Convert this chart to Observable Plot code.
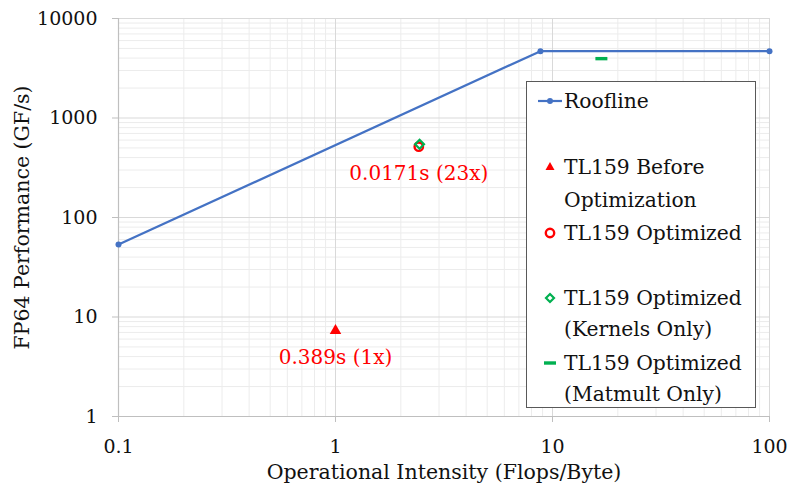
<!DOCTYPE html>
<html>
<head>
<meta charset="utf-8">
<script src="https://cdn.jsdelivr.net/npm/d3@7"></script>
<script src="https://cdn.jsdelivr.net/npm/@observablehq/plot@0.6"></script>
<style>
  html, body { margin: 0; padding: 0; background: #fff; }
  #wrap { position: relative; width: 788px; height: 486px; font-family: "DejaVu Serif", serif; }
  #legend { position: absolute; left: 526px; top: 81px; width: 230px; height: 327px; border: 1.5px solid #595959; background: #fff; box-sizing: border-box; font-size: 20.3px; color: #111; }
  .item { position: absolute; left: 37px; line-height: 32px; white-space: nowrap; }
  .sym { position: absolute; left: 10px; width: 26px; height: 20px; }
</style>
</head>
<body>
<div id="wrap"></div>
<script>
// Data
const rooflineX = [0.1, 8.8, 100];
const rooflineY = [53.5, 4700, 4700];
const beforeOpt = {x: 1.0, y: 7.3, label: "0.389s (1x)"};
const optimized = {x: 2.42, y: 515, label: "0.0171s (23x)"};
const kernelsOnly = {x: 2.44, y: 545};
const matmultOnly = {x: 16.8, y: 3950};
const xTicks = [0.1, 1, 10, 100];
const xTickLabels = ["0.1", "1", "10", "100"];
const yTicks = [1, 10, 100, 1000, 10000];
const yTickLabels = ["1", "10", "100", "1000", "10000"];
const legendLabels = ["Roofline", "TL159 Before", "Optimization", "TL159 Optimized", "TL159 Optimized", "(Kernels Only)", "TL159 Optimized", "(Matmult Only)"];

const blue = "#4472c4", red = "#ff0000", green = "#00b050";
const FONT = "DejaVu Serif, serif";

const minorX = [];
for (let d = 0.1; d < 100; d *= 10) for (let k = 2; k <= 9; k++) minorX.push(+(d * k).toPrecision(3));
const minorY = [];
for (let d = 1; d < 10000; d *= 10) for (let k = 2; k <= 9; k++) minorY.push(d * k);

const roof = rooflineX.map((x, i) => ({x, y: rooflineY[i]}));
const dash = {draw(ctx) { ctx.rect(-6, -1.7, 12, 3.4); }};

const fmtX = new Map(xTicks.map((t, i) => [t, xTickLabels[i]]));
const fmtY = new Map(yTicks.map((t, i) => [t, yTickLabels[i]]));

const chart = Plot.plot({
  width: 788,
  height: 486,
  marginLeft: 118,
  marginRight: 19,
  marginTop: 18,
  marginBottom: 70,
  style: {fontFamily: FONT, fontSize: "20px", color: "#111", background: "#fff"},
  x: {type: "log", domain: [0.1, 100]},
  y: {type: "log", domain: [1, 10000]},
  marks: [
    Plot.ruleX(minorX, {stroke: "#ececec", strokeWidth: 1}),
    Plot.ruleY(minorY, {stroke: "#ececec", strokeWidth: 1}),
    Plot.ruleX(xTicks.slice(1), {stroke: "#d9d9d9", strokeWidth: 1}),
    Plot.ruleY(yTicks.slice(1), {stroke: "#d9d9d9", strokeWidth: 1}),
    Plot.ruleX([0.1], {stroke: "#bfbfbf", strokeWidth: 1.2}),
    Plot.ruleY([1], {stroke: "#bfbfbf", strokeWidth: 1.2}),
    Plot.axisX({ticks: xTicks, tickFormat: d => fmtX.get(d), tickSize: 6, stroke: "#bfbfbf", tickPadding: 17, fontSize: 19, fontFamily: FONT, label: null}),
    Plot.axisY({ticks: yTicks, tickFormat: d => fmtY.get(d), tickSize: 6, stroke: "#bfbfbf", tickPadding: 15, fontSize: 19, fontFamily: FONT, label: null}),
    Plot.axisX({ticks: [], label: "Operational Intensity (Flops/Byte)", labelAnchor: "center", labelArrow: "none", labelOffset: 62, fontSize: 20.5, fontFamily: FONT}),
    Plot.axisY({ticks: [], label: "FP64 Performance (GF/s)", labelAnchor: "center", labelArrow: "none", labelOffset: 104, fontSize: 20.5, fontFamily: FONT}),
    Plot.line(roof, {x: "x", y: "y", stroke: blue, strokeWidth: 2.2}),
    Plot.dot(roof, {x: "x", y: "y", fill: blue, r: 3}),
    Plot.dot([beforeOpt], {x: "x", y: "y", symbol: "triangle", fill: red, r: 4.3}),
    Plot.dot([optimized], {x: "x", y: "y", stroke: red, strokeWidth: 2.4, r: 4.2}),
    Plot.dot([kernelsOnly], {x: "x", y: "y", symbol: "diamond2", stroke: green, strokeWidth: 2.2, r: 4}),
    Plot.dot([matmultOnly], {x: "x", y: "y", symbol: dash, fill: green, r: 5}),
    Plot.text([beforeOpt, optimized], {x: "x", y: "y", text: "label", fill: red, fontSize: 20, fontFamily: FONT, dy: 27})
  ]
});
document.getElementById("wrap").appendChild(chart);

// Legend (HTML overlay)
const leg = document.createElement("div");
leg.id = "legend";
const rows = [
  {t: legendLabels[0], top: 3, sym: `<svg class="sym" viewBox="0 0 26 20"><line x1="1" y1="10" x2="25" y2="10" stroke="${blue}" stroke-width="2.2"/><circle cx="13" cy="10" r="3" fill="${blue}"/></svg>`},
  {t: legendLabels[1], top: 69, sym: `<svg class="sym" viewBox="0 0 26 20"><path d="M13,5 L17.5,13 L8.5,13 Z" fill="${red}"/></svg>`},
  {t: legendLabels[2], top: 102},
  {t: legendLabels[3], top: 135, sym: `<svg class="sym" viewBox="0 0 26 20"><circle cx="13" cy="10" r="4.2" fill="none" stroke="${red}" stroke-width="2.4"/></svg>`},
  {t: legendLabels[4], top: 200, sym: `<svg class="sym" viewBox="0 0 26 20"><path d="M13,6 L17,10 L13,14 L9,10 Z" fill="none" stroke="${green}" stroke-width="2.2"/></svg>`},
  {t: legendLabels[5], top: 231},
  {t: legendLabels[6], top: 265, sym: `<svg class="sym" viewBox="0 0 26 20"><rect x="7" y="8.3" width="12" height="3.4" fill="${green}"/></svg>`},
  {t: legendLabels[7], top: 296}
];
for (const r of rows) {
  const it = document.createElement("div");
  it.className = "item";
  it.style.top = r.top + "px";
  it.textContent = r.t;
  leg.appendChild(it);
  if (r.sym) {
    const s = document.createElement("div");
    s.innerHTML = r.sym;
    const svg = s.firstChild;
    svg.style.top = (r.top + 6) + "px";
    leg.appendChild(svg);
  }
}
document.getElementById("wrap").appendChild(leg);
</script>
</body>
</html>
